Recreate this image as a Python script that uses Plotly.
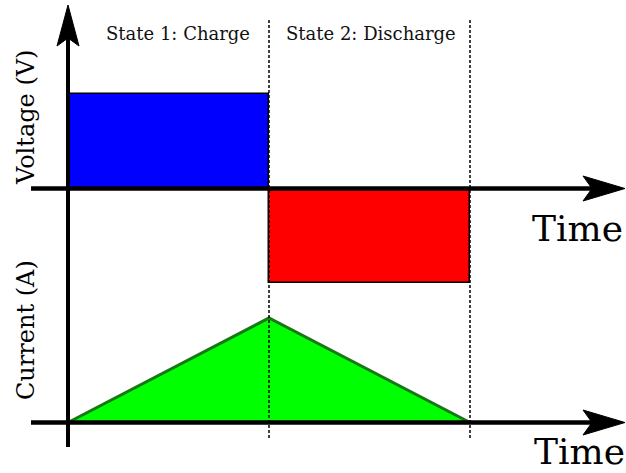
import plotly.graph_objects as go

# ---- data ----
state_labels = ["State 1: Charge", "State 2: Discharge"]
state_bounds = [0, 1, 2]            # time at start/end of each state
voltage_time = [0.5, 1.5]           # bar centres
voltage_vals = [1, -1]              # charge +V, discharge -V
voltage_colors = ["#0000ff", "#ff0000"]
current_time = [0, 1, 2]
current_vals = [0, 1, 0]
axis_titles = ["Voltage (V)", "Current (A)"]
time_label = "Time"

# ---- pixel <-> data helpers (layout only) ----
W, H = 626, 473
X0, SX = 68, 201.0
V0, SV = 188.5, 94.5
C0, SC = 422.5, 104.5
def tx(px): return (px - X0) / SX
def vy(py): return (V0 - py) / SV
def cy(py): return (C0 - py) / SC

FONT = "DejaVu Serif"

fig = go.Figure()
fig.add_trace(go.Bar(
    x=voltage_time, y=voltage_vals, width=[1, 1],
    marker=dict(color=voltage_colors, line=dict(color="black", width=1.5)),
    xaxis="x", yaxis="y", showlegend=False, hoverinfo="skip"))
fig.add_trace(go.Scatter(
    x=current_time, y=current_vals, mode="lines", fill="tozeroy",
    fillcolor="#00ff00", line=dict(color="#167816", width=3),
    xaxis="x", yaxis="y2", showlegend=False, hoverinfo="skip"))

shapes = []
# dashed state boundaries
for b in state_bounds[1:]:
    shapes.append(dict(type="line", xref="x", yref="y", x0=b, x1=b,
                       y0=vy(20), y1=vy(438),
                       line=dict(color="black", width=1.5, dash="3px,2px"),
                       layer="above"))
# vertical axis
shapes.append(dict(type="line", xref="x", yref="y", x0=0, x1=0,
                   y0=vy(447), y1=vy(38), line=dict(color="black", width=4),
                   layer="above"))
def up_head(cx, tip):
    pts = [(cx, tip), (cx + 11, tip + 41), (cx, tip + 33), (cx - 11, tip + 41)]
    return "M " + " L ".join(f"{tx(a)},{vy(b)}" for a, b in pts) + " Z"
shapes.append(dict(type="path", xref="x", yref="y", path=up_head(68, 5),
                   fillcolor="black", line=dict(color="black", width=1),
                   layer="above"))
# horizontal axes
def right_head(tipx, cyp, conv):
    pts = [(tipx, cyp), (tipx - 42, cyp - 12.5), (tipx - 33, cyp), (tipx - 42, cyp + 12.5)]
    return "M " + " L ".join(f"{tx(a)},{conv(b)}" for a, b in pts) + " Z"
for yref, conv, y0 in (("y", vy, V0), ("y2", cy, C0)):
    shapes.append(dict(type="line", xref="x", yref=yref, x0=tx(31), x1=tx(598),
                       y0=0, y1=0, line=dict(color="black", width=4.5),
                       layer="above"))
    shapes.append(dict(type="path", xref="x", yref=yref,
                       path=right_head(625, y0, conv),
                       fillcolor="black", line=dict(color="black", width=1),
                       layer="above"))

annotations = [
    dict(text=state_labels[0], x=tx(178), y=vy(33), xref="x", yref="y",
         showarrow=False, font=dict(family=FONT, size=18, color="#111")),
    dict(text=state_labels[1], x=tx(371), y=vy(33), xref="x", yref="y",
         showarrow=False, font=dict(family=FONT, size=18, color="#111")),
    dict(text=time_label, x=tx(577), y=vy(228), xref="x", yref="y",
         showarrow=False, font=dict(family=FONT, size=36, color="black")),
    dict(text=time_label, x=tx(579), y=vy(451), xref="x", yref="y",
         showarrow=False, font=dict(family=FONT, size=36, color="black")),
    dict(text=axis_titles[0], x=tx(26), y=vy(118), xref="x", yref="y",
         showarrow=False, textangle=-90,
         font=dict(family=FONT, size=24, color="black")),
    dict(text=axis_titles[1], x=tx(26), y=vy(330), xref="x", yref="y",
         showarrow=False, textangle=-90,
         font=dict(family=FONT, size=24, color="black")),
]

fig.update_layout(
    width=W, height=H, margin=dict(l=0, r=0, t=0, b=0),
    paper_bgcolor="white", plot_bgcolor="white",
    xaxis=dict(range=[tx(0), tx(W)], visible=False, fixedrange=True),
    yaxis=dict(range=[vy(H), vy(0)], visible=False, fixedrange=True),
    yaxis2=dict(range=[cy(H), cy(0)], visible=False, overlaying="y",
                fixedrange=True),
    shapes=shapes, annotations=annotations, bargap=0,
)
fig.write_html("out.html",
               config=dict(displayModeBar=False),
               post_script="document.body.style.margin='0px';"
                           "document.body.style.overflow='hidden';")
